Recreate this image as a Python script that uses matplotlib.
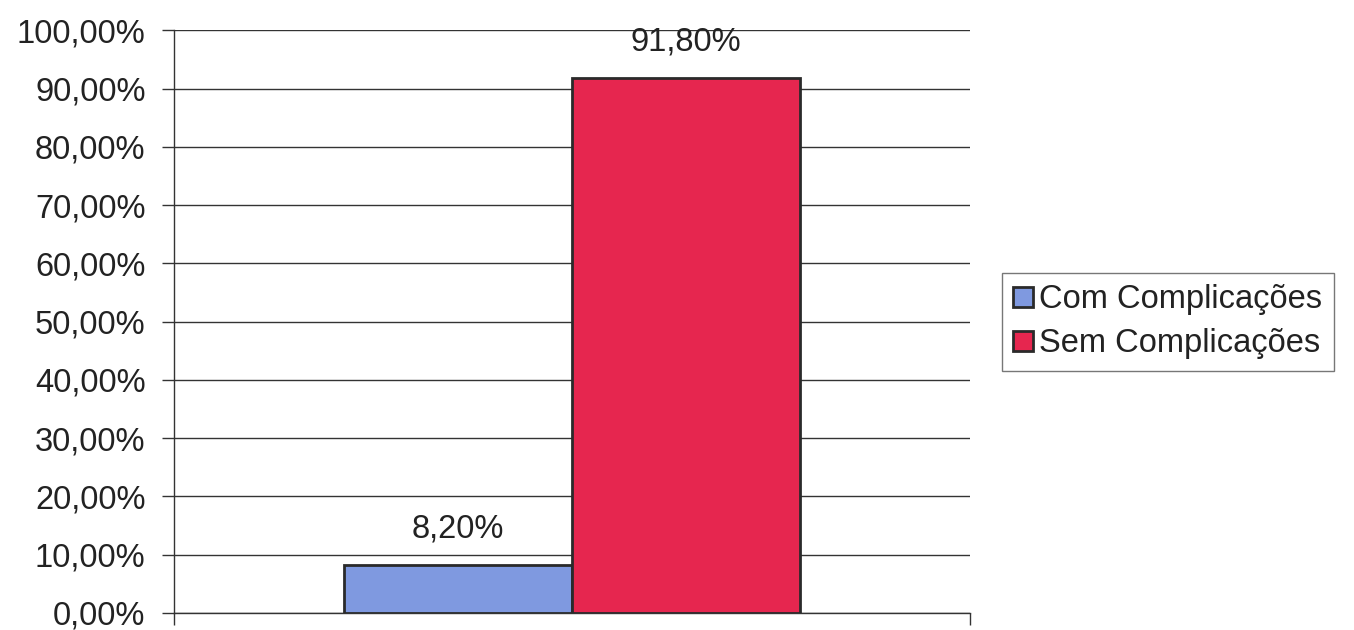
import matplotlib.pyplot as plt
import numpy as np

categories = ['Com Complicações', 'Sem Complicações']
values = [8.20, 91.80]
value_labels = ['8,20%', '91,80%']
yticks = [0, 10, 20, 30, 40, 50, 60, 70, 80, 90, 100]
colors = ['#7f99e0', '#e6264f']

plt.rcParams['font.family'] = ['Liberation Sans', 'DejaVu Sans']
text_color = '#222222'
fs = 23.5

fig = plt.figure(figsize=(13.54, 6.3), dpi=100)
ax = fig.add_axes([0.1285, 0.027, 0.5879, 0.925])

n = len(values)
xpos = np.arange(n) - (n - 1) / 2
handles = []
for i, (x, v) in enumerate(zip(xpos, values)):
    b = ax.bar(x, v, width=1.0, color=colors[i], edgecolor='#2a2a2a',
               linewidth=2, zorder=3, label=categories[i])
    handles.append(b)
    ax.annotate(value_labels[i], (x, v), xytext=(0, 15), textcoords='offset points',
                ha='center', va='bottom', fontsize=fs, color=text_color)

ax.set_xlim(-1.746, 1.746)
ax.set_ylim(0, 100)
ax.set_yticks(yticks)
ax.set_yticklabels([f'{t:.2f}%'.replace('.', ',') for t in yticks],
                   fontsize=fs, color=text_color)
ax.yaxis.grid(True, color='#333333', linewidth=1, zorder=0)
ax.set_xticks([-1.746, 1.746])
ax.set_xticklabels([])
ax.tick_params(axis='both', length=8.5, width=1, color='#333333', direction='out')
ax.tick_params(axis='y', pad=12)
for s in ['top', 'right']:
    ax.spines[s].set_visible(False)
for s in ['left', 'bottom']:
    ax.spines[s].set_color('#333333')
    ax.spines[s].set_linewidth(1)

leg = fig.legend(handles=handles, labels=categories, loc='center left',
                 bbox_to_anchor=(0.740, 0.489), fontsize=fs,
                 frameon=True, fancybox=False, edgecolor='#555555',
                 handlelength=0.6, handleheight=0.6, handletextpad=0.2,
                 borderpad=0.35, labelspacing=0.4, borderaxespad=0)
for t in leg.get_texts():
    t.set_color(text_color)

fig.savefig('out.png', dpi=100)
